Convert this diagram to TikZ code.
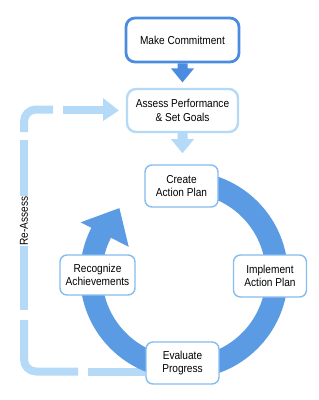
\documentclass[tikz,border=0pt]{standalone}
\usepackage{fontspec}
\setmainfont{Liberation Sans}[FakeStretch=0.88]
\usetikzlibrary{calc,backgrounds}
\definecolor{ringblue}{HTML}{5A9BE4}
\definecolor{darkblue}{HTML}{4A8DE0}
\definecolor{lightblue}{HTML}{B4DAF7}
\definecolor{midblue}{HTML}{86BCEE}
\begin{document}
\begin{tikzpicture}[x=1pt,y=-1pt,
  font=\fontsize{11.5}{13.5}\selectfont,
  box/.style={draw=midblue, line width=1.4pt, fill=white, rounded corners=7pt,
    align=center, inner sep=0pt, minimum width=73pt, minimum height=42pt},
  topbox/.style={box, draw=darkblue, line width=2.8pt, minimum width=113pt, minimum height=44pt, rounded corners=9pt},
  asbox/.style={box, draw=lightblue, line width=2.4pt, minimum width=111pt, minimum height=43pt, rounded corners=9pt},
  loopline/.style={draw=lightblue, line width=8pt, line cap=butt, rounded corners=12pt}]
\useasboundingbox (0,0) rectangle (319,400);

\node[topbox] (mc) at (182.5,40) {Make Commitment};
\node[asbox] (as) at (182.5,110.5) {Assess Performance\\\& Set Goals};
\node[box] (cr) at (181.5,186) {Create\\Action Plan};
\node[box] (im) at (270,276) {Implement\\Action Plan};
\node[box] (ev) at (182.5,363) {Evaluate\\Progress};
\node[box, minimum width=75pt, minimum height=40pt] (rc) at (97.5,275) {Recognize\\Achievements};
\node[rotate=90, fill=white, inner sep=1pt] (re) at (24,221) {Re-Assess};

% down arrows
\fill[darkblue] ($(mc.south)+(-5,0)$) -- ($(mc.south)+(5,0)$) -- ($(mc.south)+(5,5)$)
  -- ($(mc.south)+(11.5,5)$) -- ($(mc.south)+(0,19)$) -- ($(mc.south)+(-11.5,5)$)
  -- ($(mc.south)+(-5,5)$) -- cycle;
\fill[lightblue] ($(as.south)+(-5,0)$) -- ($(as.south)+(5,0)$) -- ($(as.south)+(5,6)$)
  -- ($(as.south)+(11.5,6)$) -- ($(as.south)+(0,20)$) -- ($(as.south)+(-11.5,6)$)
  -- ($(as.south)+(-5,6)$) -- cycle;

\begin{pgfonlayer}{background}
  % re-assess loop
  \coordinate (lb) at (24,371.5);
  \coordinate (lt) at (24,109.5);
  \draw[loopline] ($(ev.west)+(0,8.5)$) -- ($(lb)+(64,0)$);
  \draw[loopline] ($(lb)+(54,0)$) -- (lb) -- ($(lb)+(0,-51.5)$);
  \draw[loopline] ($(lb)+(0,-61.5)$) -- ($(re.east)+(0,-8)$);
  \draw[loopline] ($(re.west)+(0,8)$) -- ($(lt)+(0,30.5)$);
  \draw[loopline] ($(lt)+(0,22.5)$) -- (lt) -- ($(lt)+(29,0)$);
  \draw[loopline] ($(lt)+(39,0)$) -- ($(lt)+(79.5,0)$);
  \fill[lightblue] ($(lt)+(79,-11.5)$) -- ($(as.west)+(-7,0)$) -- ($(lt)+(79,11.5)$) -- cycle;
  % cycle ring
  \begin{scope}[shift={(184,275)}]
    \fill[ringblue] (265:104) arc[start angle=265, end angle=567, radius=104]
      -- (567:116) -- (586:93) -- (567:62) -- (567:82)
      arc[start angle=567, end angle=265, radius=82] -- cycle;
  \end{scope}
\end{pgfonlayer}
\end{tikzpicture}
\end{document}
